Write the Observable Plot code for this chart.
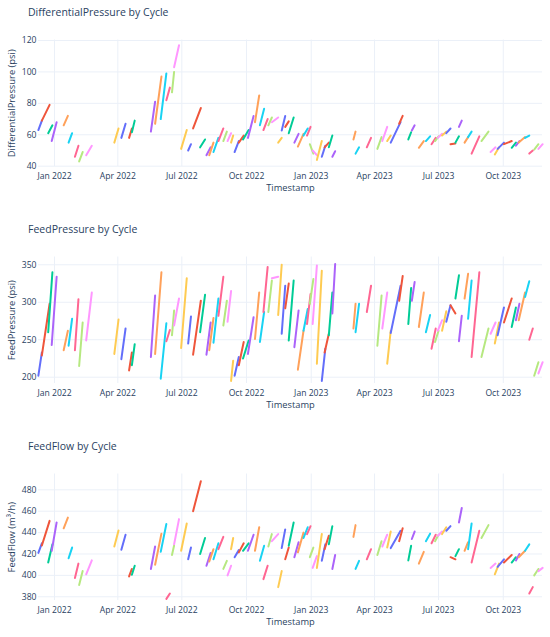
<!DOCTYPE html>
<html><head><meta charset="utf-8">
<script src="https://cdn.jsdelivr.net/npm/d3@7"></script>
<script src="https://cdn.jsdelivr.net/npm/@observablehq/plot@0.6"></script>
<style>
body{margin:0;background:#fff;overflow:hidden;font-family:"Open Sans",sans-serif}
#wrap{position:relative;width:550px;height:637px;overflow:hidden}
.panel{position:absolute;left:0;width:550px;height:217px}
</style></head><body><div id="wrap"></div>
<script>
// Cycle time spans
const cycleStart = ["2021-12-09","2021-12-14","2021-12-23","2021-12-28","2022-01-14","2022-01-21","2022-01-30","2022-02-05","2022-02-15","2022-03-27",
"2022-04-06","2022-04-17","2022-04-21","2022-05-18","2022-05-24","2022-06-01","2022-06-09","2022-06-17","2022-06-20","2022-06-30",
"2022-07-10","2022-07-17","2022-07-27","2022-08-05","2022-08-09","2022-08-15","2022-08-22","2022-08-29","2022-09-04","2022-09-09",
"2022-09-14","2022-09-20","2022-09-26","2022-10-03","2022-10-13","2022-10-20","2022-10-25","2022-11-01","2022-11-06","2022-11-15",
"2022-11-20","2022-11-25","2022-11-30","2022-12-08","2022-12-13","2022-12-21","2022-12-26","2022-12-30","2023-01-03","2023-01-09",
"2023-01-16","2023-01-20","2023-01-26","2023-01-31","2023-03-02","2023-03-05","2023-03-21","2023-04-05","2023-04-12","2023-04-19",
"2023-04-24","2023-05-06","2023-05-19","2023-05-24","2023-06-03","2023-06-13","2023-06-21","2023-06-26","2023-06-30","2023-07-06",
"2023-07-12","2023-07-18","2023-07-25","2023-07-30","2023-08-07","2023-08-12","2023-08-17","2023-08-31","2023-09-13","2023-09-19",
"2023-09-23","2023-10-02","2023-10-13","2023-10-19","2023-10-23","2023-11-01","2023-11-07","2023-11-14","2023-11-20"];
const cycleEnd = ["2021-12-14","2021-12-25","2021-12-29","2022-01-04","2022-01-20","2022-01-26","2022-02-04","2022-02-10","2022-02-23","2022-04-02",
"2022-04-12","2022-04-21","2022-04-25","2022-05-24","2022-06-02","2022-06-09","2022-06-14","2022-06-20","2022-06-27","2022-07-08",
"2022-07-14","2022-07-28","2022-08-03","2022-08-11","2022-08-15","2022-08-22","2022-08-29","2022-09-03","2022-09-09","2022-09-12",
"2022-09-20","2022-09-27","2022-10-04","2022-10-11","2022-10-19","2022-10-26","2022-10-31","2022-11-06","2022-11-15","2022-11-20",
"2022-11-25","2022-11-30","2022-12-07","2022-12-14","2022-12-21","2022-12-27","2022-12-31","2023-01-04","2023-01-09","2023-01-16",
"2023-01-21","2023-01-26","2023-01-31","2023-02-04","2023-03-05","2023-03-10","2023-03-27","2023-04-11","2023-04-19","2023-04-24",
"2023-05-08","2023-05-11","2023-05-23","2023-05-28","2023-06-10","2023-06-19","2023-06-27","2023-07-01","2023-07-06","2023-07-12",
"2023-07-18","2023-07-25","2023-07-30","2023-08-03","2023-08-12","2023-08-17","2023-08-28","2023-09-10","2023-09-20","2023-09-25",
"2023-10-02","2023-10-13","2023-10-19","2023-10-24","2023-11-01","2023-11-07","2023-11-12","2023-11-20","2023-11-26"];

// DifferentialPressure (psi) at start / end of each cycle
const dpStart = [63,69,61,56,66,55,46,43,47,55, 58,58,61.6,62,67,70,82,87,103,51, 50,64,52,47,47,49,56,56,56,55,
49,55,57,58,68,66,63,66,68,55, 62.7,65,61,55,52.5,59.5,59.5,54,50,44, 46,52,52,46,57,48,52,51,56,56,
55,67,57,62.7,51.7,56,54,56,58,59.5, 61,54,55,65,55,58.5,48,56,49,47.5, 51,54,51.7,53,55,58,48,50.6,51];
const dpEnd = [69,79,66,68,72,61,53,49,53,64, 67,64,69,81,97,99,90,100,117,63, 54,77,57,52,55,58,64,62,61,59.5,
56,59.5,63,72,85,76.5,70,71,71,58, 72,68.5,71,60.6,60.6,64,65,48,47,56, 53,55,59.5,49.5,62,52,58,58.5,65,59.5,
68,72,61.6,66,56,59,58,59,60.6,62, 64,54.5,59,69,58.5,62,59,62,52,52, 55,56,55,56,58.5,59.5,50,54,54];

// FeedPressure (psi)
const fpStart = [202,229,260,243,236,242,236,215,249,231, 224,209,216,227,231,198,248,256,269,239, 245,230,260,230,236,246,282,269,274,195,
202,216,225,231,251,247,287,287,332,283, 258,292,249,240,210,262,271,298,271,218, 195,233,256,285,265,260,287,242,265,218,
259,302,271,302,267,260,238,247,262,262, 274,296,305,248,305,278,227,227,258,245, 256,273,267,276,276,307,250,202,205];
const fpEnd = [233,298,340,334,262,278,304,273,313,277, 265,233,244,309,340,272,263,289,305,332, 281,302,310,273,279,305,334,302,315,222,
227,247,249,280,313,287,347,329,334,350, 322,325,329,289,262,291,311,331,349,342, 238,258,313,351,298,298,322,309,313,262,
322,335,319,327,313,283,265,262,276,288, 296,285,336,282,338,329,340,265,273,273, 293,305,293,298,313,328,265,220,220];

// FeedFlow (m³/h)
const ffStart = [421,428,412,423,444,416,397.5,391,401,427, 424,399,400.6,406,410,422,378,419,429,423, 415,460,420,409,413,415,424.5,406,400,424.5,
417,421.5,423,423,423,413.6,396.5,427,432,389, 425.5,415,427.7,417,421.5,435,438.6,417,407,407, 413.6,424.5,429,406,436,406,415,419,427,426,
425.5,432,414,434,411,432,430,432,437,438.6, 441.7,417,418,449.5,423,424.5,412,435,407,401, 408,412,412,414,417,423,383,400,404];
const ffEnd = [430,451,429,449.5,454,426,411,404,414,442, 438,406,409,427,439,448,383,428,452.6,448.5, 426,488,435,421,424.5,430,436,413.6,409,435,
423.6,430,430,438,445,427.7,409,438.6,438.6,404, 443,426,449.5,431,440,445,446,426,418,438.6, 429,437,446,419,447,413.6,424.5,432,438,441,
441.7,444,427.7,441,422,439,438,438,441,445, 446,415,424.5,463,431,448.5,441.7,447,411,411, 415,419,417,420,423,429,389,406,407];

const xTickDates = ["2022-01-01","2022-04-01","2022-07-01","2022-10-01","2023-01-01","2023-04-01","2023-07-01","2023-10-01"];
const palette = ["#636EFA","#EF553B","#00CC96","#AB63FA","#FFA15A","#19D3F3","#FF6692","#B6E880","#FF97FF","#FECB52"];

const panels = [
  {title:"DifferentialPressure by Cycle", ylabel:"DifferentialPressure (psi)", domain:[39.8,120.3], ticks:[40,60,80,100,120], start:dpStart, end:dpEnd},
  {title:"FeedPressure by Cycle", ylabel:"FeedPressure (psi)", domain:[191.6,360.4], ticks:[200,250,300,350], start:fpStart, end:fpEnd},
  {title:"FeedFlow by Cycle", ylabel:"FeedFlow (m³/h)", domain:[376.5,494.8], ticks:[380,400,420,440,460,480], start:ffStart, end:ffEnd}
];

const xTicks = xTickDates.map(d => new Date(d + "T00:00:00Z"));
const wrap = document.getElementById("wrap");
const grid = "#ebf0f8";
const ink = "#2a3f5f";

panels.forEach((p, k) => {
  const rows = cycleStart.flatMap((s, i) => [
    {cycle: i + 1, t: new Date(s + "T00:00:00Z"), v: p.start[i]},
    {cycle: i + 1, t: new Date(cycleEnd[i] + "T00:00:00Z"), v: p.end[i]}
  ]);
  const chart = Plot.plot({
    width: 550, height: 217,
    marginTop: 39.5, marginBottom: 51, marginLeft: 38, marginRight: 8,
    style: {fontFamily: "'Open Sans', sans-serif", fontSize: "8.6px", color: ink, background: "transparent"},
    x: {type: "utc", domain: [new Date("2021-12-09T05:00:00Z"), new Date("2023-11-25T19:00:00Z")]},
    y: {domain: p.domain},
    color: {type: "identity"},
    marks: [
      Plot.gridX({ticks: xTicks, stroke: grid, strokeOpacity: 1}),
      Plot.gridY({ticks: p.ticks, stroke: grid, strokeOpacity: 1}),
      Plot.line(rows, {x: "t", y: "v", z: "cycle", stroke: d => palette[(d.cycle - 1) % 10], strokeWidth: 2, strokeLinecap: "round"}),
      Plot.axisX({ticks: xTicks, tickSize: 0, tickPadding: 6, tickFormat: d3.utcFormat("%b %Y"), label: null, fill: ink}),
      Plot.axisY({ticks: p.ticks, tickSize: 0, tickPadding: 2, label: null, fill: ink}),
      Plot.text([p.title], {text: d => d, frameAnchor: "top-left", dx: -10.5, dy: -23.8, lineAnchor: "bottom", textAnchor: "start", fontSize: 10.5, fill: ink}),
      Plot.text([p.ylabel], {text: d => d, frameAnchor: "left", dx: -26.3, rotate: -90, textAnchor: "middle", fontSize: 9.4, fill: ink}),
      Plot.text(["Timestamp"], {text: d => d, frameAnchor: "bottom", dy: 24.3, textAnchor: "middle", fontSize: 9.3, fill: ink})
    ]
  });
  const div = document.createElement("div");
  div.className = "panel";
  div.style.top = (k * 217) + "px";
  div.appendChild(chart);
  wrap.appendChild(div);
});
</script>
</body></html>
